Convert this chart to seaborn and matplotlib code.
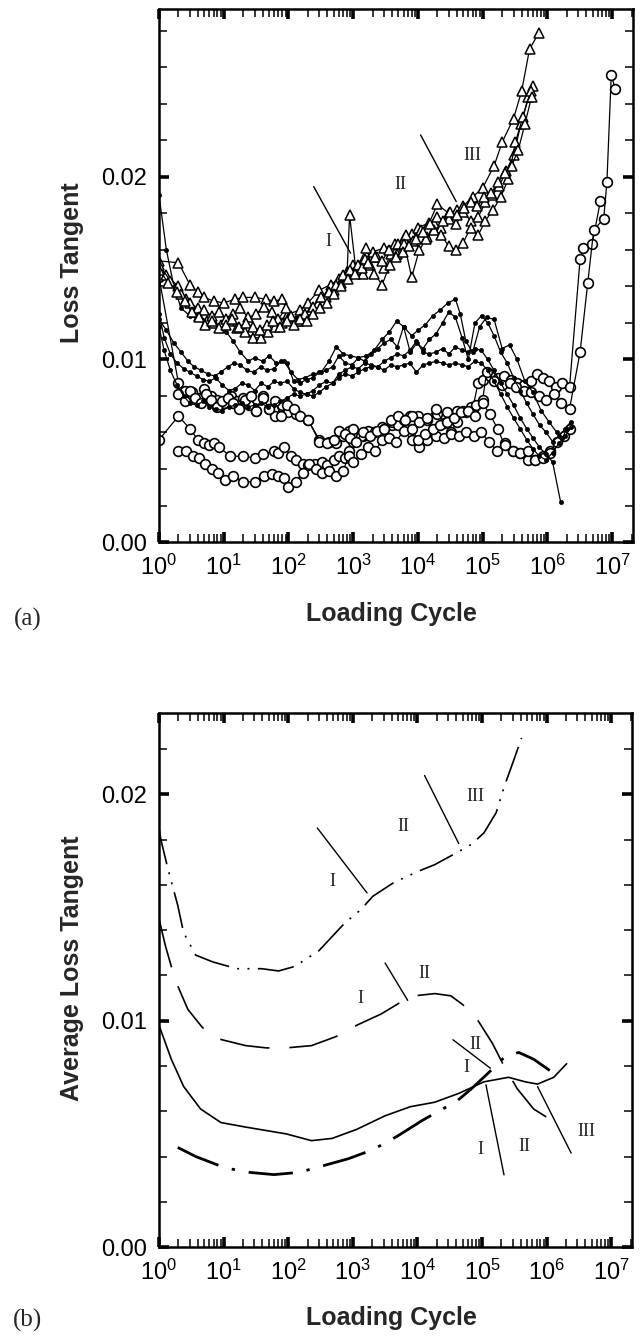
import numpy as np
import pandas as pd
import matplotlib
matplotlib.use("Agg")
import matplotlib.pyplot as plt
import seaborn as sns
from matplotlib.ticker import FixedLocator, LogLocator, NullFormatter, MultipleLocator

# ---------------- data : panel (a) ----------------
T1_N = [1, 2, 3, 4, 5, 7, 10, 15, 20, 30, 45, 60, 80, 100, 150, 200, 300, 450, 600, 800, 1000, 1500,
        2000, 3000, 4500, 6000, 8000, 1e4, 1.5e4, 2e4, 3e4, 4e4, 5e4, 7e4, 1e5, 1.5e5, 2e5, 3e5, 4e5, 5.3e5, 7.4e5]
T1_v = [0.0154, 0.0153, 0.0141, 0.0137, 0.0134, 0.0132, 0.0131, 0.0133, 0.0134, 0.0134, 0.0133, 0.0132, 0.0133,
        0.0125, 0.0127, 0.0131, 0.0138, 0.0141, 0.0144, 0.0148, 0.0152, 0.0155, 0.0159, 0.0161, 0.0163, 0.0166,
        0.0169, 0.0172, 0.0175, 0.0185, 0.0180, 0.0182, 0.0184, 0.0189, 0.0194, 0.0206, 0.0219, 0.0232, 0.0247,
        0.0270, 0.0279]
T2_N = [1, 1.3, 2, 2.6, 3.3, 4.2, 5.5, 7, 9, 12, 16, 21, 28, 37, 48, 62, 80, 100, 130, 170, 220, 290, 380, 500,
        650, 800, 880, 1100, 1400, 1800, 2300, 3000, 3900, 5000, 6500, 8500, 1.1e4, 1.4e4, 1.8e4, 2.3e4, 3e4,
        3.9e4, 5e4, 6.5e4, 8.5e4, 1.1e5, 1.4e5, 1.8e5, 2.3e5, 3e5, 3.9e5, 5.1e5, 6.0e5]
T2_v = [0.0150, 0.0146, 0.0140, 0.0133, 0.0127, 0.0124, 0.0121, 0.0120, 0.0119, 0.0121, 0.0117, 0.0115, 0.0112,
        0.0112, 0.0115, 0.0118, 0.0120, 0.0122, 0.0121, 0.0123, 0.0127, 0.0131, 0.0134, 0.0138, 0.0142, 0.0146,
        0.0179, 0.0149, 0.0147, 0.0152, 0.0156, 0.0150, 0.0158, 0.0163, 0.0168, 0.0165, 0.0171, 0.0167, 0.0175,
        0.0172, 0.0177, 0.0174, 0.0181, 0.0176, 0.0178, 0.0186, 0.0190, 0.0195, 0.0203, 0.0212, 0.0229, 0.0244,
        0.0250]
T3_N = [1, 1.5, 2.2, 3, 4, 5, 6.5, 8.5, 11, 14, 18, 24, 32, 42, 55, 70, 90, 110, 140, 180, 240, 320, 420, 550,
        700, 900, 1200, 1600, 2100, 2800, 3700, 4800, 6200, 8000, 1.05e4, 1.35e4, 1.75e4, 2.3e4, 3e4, 3.9e4,
        5e4, 6.5e4, 8.5e4, 1.1e5, 1.45e5, 1.9e5, 2.5e5, 3.2e5, 4.2e5, 5.5e5]
T3_v = [0.0152, 0.0143, 0.0136, 0.0131, 0.0128, 0.0127, 0.0124, 0.0126, 0.0122, 0.0125, 0.0128, 0.0123, 0.0125,
        0.0129, 0.0126, 0.0122, 0.0128, 0.0124, 0.0121, 0.0125, 0.0129, 0.0134, 0.0137, 0.0141, 0.0146, 0.0149,
        0.0152, 0.0161, 0.0147, 0.0141, 0.0152, 0.0158, 0.0163, 0.0145, 0.0160, 0.0166, 0.0171, 0.0168, 0.0162,
        0.0160, 0.0164, 0.0172, 0.0168, 0.0176, 0.0182, 0.0189, 0.0199, 0.0219, 0.0233, 0.0247]
T4_N = [1, 1.4, 1.9, 2.5, 3.2, 4.1, 5.2, 6.6, 8.4, 10.7, 13.6, 17.3, 22, 28, 36, 46, 58, 74, 94, 120, 150, 190,
        240, 310, 400, 510, 650, 830, 1060, 1350, 1720, 2200, 2800, 3560, 4540, 5780, 7360, 9380, 1.2e4, 1.52e4,
        1.94e4, 2.47e4, 3.15e4, 4e4, 5.1e4, 6.5e4, 8.3e4, 1.06e5, 1.35e5, 1.72e5, 2.19e5, 2.8e5, 3.56e5, 4.5e5,
        5.7e5]
T4_v = [0.0149, 0.0142, 0.0137, 0.0132, 0.0126, 0.0123, 0.0119, 0.0121, 0.0117, 0.0119, 0.0122, 0.0118, 0.0120,
        0.0118, 0.0116, 0.0119, 0.0121, 0.0118, 0.0121, 0.0119, 0.0122, 0.0121, 0.0125, 0.0128, 0.0131, 0.0136,
        0.0140, 0.0144, 0.0147, 0.0150, 0.0153, 0.0156, 0.0154, 0.0160, 0.0156, 0.0159, 0.0162, 0.0166, 0.0170,
        0.0174, 0.0178, 0.0176, 0.0181, 0.0179, 0.0183, 0.0186, 0.0184, 0.0189, 0.0191, 0.0197, 0.0202, 0.0206,
        0.0215, 0.0229, 0.0244]

F1_N = [1, 1.3, 1.7, 2.2, 3, 4, 5, 6.5, 8.5, 11, 14, 18, 24, 30, 40, 50, 65, 85, 110, 140, 180, 240, 320, 420,
        550, 700, 900, 1200, 1600, 2100, 2800, 3600, 4700, 6000, 8000, 1e4, 1.3e4, 1.7e4, 2.2e4, 2.9e4, 3.8e4,
        4.5e4, 5.5e4, 7e4, 9e4, 1.15e5, 1.5e5, 2e5, 2.6e5, 3.4e5, 4.5e5, 6e5, 8e5, 1.05e6, 1.4e6, 1.7e6, 2e6]
F1_v = [0.0190, 0.0160, 0.0140, 0.0128, 0.0124, 0.0122, 0.0121, 0.0120, 0.0118, 0.0115, 0.0110, 0.0104, 0.0099,
        0.0101, 0.0099, 0.0102, 0.0098, 0.0099, 0.0093, 0.0089, 0.0090, 0.0092, 0.0093, 0.0099, 0.0107, 0.0103,
        0.0102, 0.0101, 0.0102, 0.0105, 0.0111, 0.0115, 0.0121, 0.0118, 0.0113, 0.0116, 0.0119, 0.0124, 0.0127,
        0.0131, 0.0133, 0.0125, 0.0110, 0.0104, 0.0118, 0.0123, 0.0122, 0.0106, 0.0108, 0.0100, 0.0088, 0.0082,
        0.0072, 0.0066, 0.0060, 0.0057, 0.0062]
F2_N = [1, 1.3, 1.7, 2.2, 2.8, 3.5, 4.5, 5.7, 7.2, 9, 11.5, 14.5, 18, 23, 29, 37, 47, 60, 76, 96, 120, 150, 190,
        240, 300, 380, 480, 600, 760, 960, 1200, 1500, 1900, 2400, 3000, 3800, 4800, 6000, 7600, 9600, 1.2e4,
        1.5e4, 1.9e4, 2.4e4, 3e4, 3.8e4, 4.8e4, 6e4, 7.6e4, 9.6e4, 1.2e5, 1.5e5, 1.9e5, 2.4e5, 3e5, 3.8e5, 4.8e5,
        6e5, 7.6e5, 9.6e5, 1.2e6, 1.5e6, 1.9e6, 2.3e6]
F2_v = [0.0122, 0.0116, 0.0109, 0.0104, 0.0099, 0.0096, 0.0094, 0.0092, 0.0091, 0.0093, 0.0096, 0.0098, 0.0097,
        0.0094, 0.0093, 0.0096, 0.0094, 0.0095, 0.0099, 0.0098, 0.0088, 0.0087, 0.0089, 0.0090, 0.0093, 0.0094,
        0.0096, 0.0102, 0.0098, 0.0097, 0.0101, 0.0099, 0.0103, 0.0106, 0.0109, 0.0111, 0.0107, 0.0118, 0.0104,
        0.0109, 0.0106, 0.0111, 0.0114, 0.0120, 0.0126, 0.0123, 0.0112, 0.0100, 0.0120, 0.0124, 0.0120, 0.0113,
        0.0104, 0.0098, 0.0090, 0.0083, 0.0076, 0.0070, 0.0064, 0.0060, 0.0055, 0.0058, 0.0062, 0.0066]
F3_N = [1, 1.2, 1.5, 1.9, 2.4, 3, 3.8, 4.8, 6, 7.5, 9.5, 12, 15, 19, 24, 30, 38, 48, 60, 75, 95, 120, 150, 190,
        240, 300, 380, 480, 600, 750, 950, 1200, 1500, 1900, 2400, 3000, 3800, 4800, 6000, 7500, 9500, 1.2e4,
        1.5e4, 1.9e4, 2.4e4, 3e4, 3.8e4, 4.8e4, 6e4, 7.5e4, 9.5e4, 1.2e5, 1.5e5, 1.9e5, 2.4e5, 3e5, 3.8e5, 4.8e5,
        6e5, 7.5e5, 9.5e5, 1.2e6, 1.6e6]
F3_v = [0.0125, 0.0112, 0.0103, 0.0098, 0.0095, 0.0093, 0.0091, 0.0089, 0.0088, 0.0090, 0.0086, 0.0083, 0.0084,
        0.0087, 0.0086, 0.0083, 0.0087, 0.0085, 0.0088, 0.0087, 0.0088, 0.0084, 0.0082, 0.0081, 0.0083, 0.0086,
        0.0088, 0.0087, 0.0092, 0.0094, 0.0096, 0.0095, 0.0098, 0.0097, 0.0096, 0.0099, 0.0101, 0.0103, 0.0102,
        0.0105, 0.0110, 0.0104, 0.0103, 0.0104, 0.0106, 0.0103, 0.0107, 0.0105, 0.0104, 0.0106, 0.0105, 0.0100,
        0.0094, 0.0087, 0.0081, 0.0075, 0.0068, 0.0062, 0.0057, 0.0052, 0.0048, 0.0044, 0.0022]
F4_N = [1, 1.2, 1.5, 1.9, 2.4, 3, 3.8, 4.8, 6, 7.5, 9.5, 12, 15, 19, 24, 30, 38, 48, 60, 75, 95, 120, 150, 190,
        240, 300, 380, 480, 600, 750, 950, 1200, 1500, 1900, 2400, 3000, 3800, 4800, 6000, 7500, 9500, 1.2e4,
        1.5e4, 1.9e4, 2.4e4, 3e4, 3.8e4, 4.8e4, 6e4, 7.5e4, 9.5e4, 1.2e5, 1.5e5, 1.9e5, 2.4e5, 3e5, 3.8e5, 4.8e5,
        6e5, 7.5e5, 9.5e5, 1.2e6, 1.5e6, 1.9e6, 2.3e6]
F4_v = [0.0118, 0.0105, 0.0094, 0.0086, 0.0080, 0.0076, 0.0075, 0.0077, 0.0074, 0.0073, 0.0072, 0.0074, 0.0075,
        0.0076, 0.0074, 0.0075, 0.0076, 0.0074, 0.0075, 0.0077, 0.0079, 0.0081, 0.0080, 0.0081, 0.0080, 0.0082,
        0.0085, 0.0087, 0.0090, 0.0092, 0.0091, 0.0093, 0.0095, 0.0096, 0.0096, 0.0094, 0.0097, 0.0096, 0.0097,
        0.0098, 0.0093, 0.0097, 0.0098, 0.0099, 0.0098, 0.0097, 0.0098, 0.0097, 0.0096, 0.0099, 0.0098, 0.0094,
        0.0088, 0.0081, 0.0074, 0.0068, 0.0062, 0.0056, 0.0051, 0.0047, 0.0045, 0.0049, 0.0054, 0.0058, 0.0063]

C1_N = [1, 2, 2.5, 3.2, 4, 5, 6.3, 8, 10, 13, 16, 20, 25, 32, 40, 50, 63, 80, 100, 130, 200, 300, 420, 550, 700,
        850, 1000, 1400, 2000, 2800, 4000, 5500, 7500, 1e4, 1.4e4, 2e4, 2.8e4, 4e4, 5.5e4, 7e4, 8.5e4, 1e5, 1.3e5,
        1.7e5, 2.1e5, 2.7e5, 3.4e5, 4.3e5, 5.5e5, 7e5, 8.5e5, 1.05e6, 1.35e6, 1.7e6, 2.2e6, 3.2e6, 3.6e6, 4.9e6,
        6.6e6]
C1_v = [0.0145, 0.0087, 0.0083, 0.0082, 0.0079, 0.0084, 0.0080, 0.0078, 0.0076, 0.0080, 0.0077, 0.0079, 0.0075,
        0.0072, 0.0080, 0.0073, 0.0069, 0.0075, 0.0071, 0.0070, 0.0067, 0.0056, 0.0055, 0.0054, 0.0058, 0.0061,
        0.0062, 0.0058, 0.0060, 0.0063, 0.0064, 0.0067, 0.0069, 0.0069, 0.0067, 0.0070, 0.0071, 0.0072, 0.0071,
        0.0073, 0.0087, 0.0089, 0.0091, 0.0090, 0.0091, 0.0089, 0.0087, 0.0086, 0.0088, 0.0092, 0.0090, 0.0088,
        0.0085, 0.0087, 0.0085, 0.0155, 0.0161, 0.0163, 0.0187]
C2_N = [1, 2, 3, 4, 5, 6, 7, 8.5, 12.5, 20, 30, 40, 60, 70, 85, 110, 130, 170, 200, 260, 330, 400, 500, 600, 750,
        850, 1000, 1300, 1700, 2200, 3000, 4000, 5000, 6200, 8000, 1.05e4, 1.4e4, 1.9e4, 2.5e4, 3.2e4, 4e4, 5e4,
        6.5e4, 8e4, 1e5, 1.15e5, 1.5e5, 2e5, 2.6e5, 3.3e5, 4.3e5, 5.6e5, 7.3e5, 9.5e5, 1.25e6, 1.65e6, 2.2e6,
        3.2e6, 4.2e6, 5.2e6, 7.4e6, 8.3e6, 9.7e6, 1.12e7]
C2_v = [0.0056, 0.0069, 0.0062, 0.0056, 0.0054, 0.0053, 0.0054, 0.0052, 0.0047, 0.0047, 0.0046, 0.0048, 0.0050,
        0.0049, 0.0052, 0.0047, 0.0045, 0.0043, 0.0042, 0.0043, 0.0044, 0.0042, 0.0045, 0.0047, 0.0046, 0.0050,
        0.0055, 0.0058, 0.0061, 0.0060, 0.0062, 0.0066, 0.0064, 0.0067, 0.0069, 0.0066, 0.0068, 0.0073, 0.0065,
        0.0060, 0.0066, 0.0072, 0.0074, 0.0075, 0.0078, 0.0093, 0.0088, 0.0086, 0.0087, 0.0085, 0.0083, 0.0082,
        0.0080, 0.0078, 0.0081, 0.0076, 0.0073, 0.0104, 0.0142, 0.0171, 0.0177, 0.0197, 0.0256, 0.0248]
C3_N = [2, 2.6, 3.3, 4.2, 5.2, 6.6, 8.3, 10.5, 14, 20, 30, 42, 55, 68, 85, 100, 130, 170, 210, 270, 330, 420, 550,
        700, 850, 1000, 1300, 1700, 2200, 2800, 3600, 4600, 6000, 8000, 1.05e4, 1.4e4, 1.9e4, 2.5e4, 3.3e4, 4.3e4,
        5.6e4, 7.3e4, 9.5e4, 1.25e5, 1.65e5, 2.2e5, 2.9e5, 3.8e5, 5e5, 6.5e5, 8.5e5, 1.1e6]
C3_v = [0.0050, 0.0050, 0.0047, 0.0046, 0.0043, 0.0040, 0.0038, 0.0034, 0.0036, 0.0033, 0.0033, 0.0036, 0.0037,
        0.0036, 0.0035, 0.0030, 0.0033, 0.0038, 0.0043, 0.0040, 0.0038, 0.0039, 0.0036, 0.0039, 0.0047, 0.0044,
        0.0048, 0.0052, 0.0050, 0.0056, 0.0057, 0.0055, 0.0061, 0.0056, 0.0052, 0.0056, 0.0058, 0.0057, 0.0059,
        0.0058, 0.0060, 0.0058, 0.0060, 0.0055, 0.0050, 0.0054, 0.0050, 0.0049, 0.0045, 0.0045, 0.0047, 0.0050]
C4_N = [2, 2.5, 3, 3.6, 4.4, 5.3, 6.4, 7.8, 9.5, 11.5, 14, 17, 21, 26, 32, 40, 50, 62, 77, 95, 120, 150, 200, 300,
        400, 500, 600, 750, 900, 1100, 1400, 1800, 2300, 3000, 3800, 4900, 6300, 8000, 1e4, 1.3e4, 1.7e4, 2.2e4,
        2.8e4, 3.6e4, 4.6e4, 6e4, 7.7e4, 1e5, 1.3e5, 1.7e5, 2.2e5, 2.9e5, 3.8e5, 5e5, 6.5e5, 8.5e5, 1.1e6, 1.4e6,
        1.8e6, 2.2e6]
C4_v = [0.0081, 0.0077, 0.0083, 0.0079, 0.0076, 0.0081, 0.0078, 0.0074, 0.0077, 0.0079, 0.0076, 0.0073, 0.0078,
        0.0080, 0.0072, 0.0079, 0.0073, 0.0077, 0.0069, 0.0075, 0.0073, 0.0069, 0.0067, 0.0055, 0.0054, 0.0056,
        0.0061, 0.0059, 0.0057, 0.0055, 0.0060, 0.0058, 0.0061, 0.0062, 0.0067, 0.0069, 0.0067, 0.0062, 0.0056,
        0.0059, 0.0062, 0.0064, 0.0066, 0.0068, 0.0071, 0.0072, 0.0069, 0.0076, 0.0070, 0.0062, 0.0053, 0.0050,
        0.0049, 0.0050, 0.0045, 0.0046, 0.0049, 0.0055, 0.0058, 0.0062]

# ---------------- data : panel (b) ----------------
A_N = [1, 1.07, 1.35, 1.95, 2.4, 3.7, 6.8, 16, 39, 71, 126, 300, 740, 1320, 2040, 4270, 1.02e4, 1.86e4, 3.9e4,
       6.9e4, 1.07e5, 1.66e5, 2.24e5, 3.0e5, 4.1e5]
A_v = [0.0185, 0.0180, 0.0168, 0.0151, 0.0139, 0.0129, 0.0126, 0.0123, 0.0123, 0.0122, 0.0124, 0.0131, 0.0143,
       0.0149, 0.0155, 0.0161, 0.0166, 0.0169, 0.0174, 0.0178, 0.0183, 0.0192, 0.0204, 0.0214, 0.0225]
B_N = [1, 1.26, 1.78, 2.8, 4.7, 8.3, 22, 46, 93, 229, 550, 1150, 2750, 5370, 8900, 1.86e4, 3.3e4, 5.1e4, 8.7e4,
       1.45e5, 2.1e5, 3.5e5, 6.3e5, 1.05e6]
B_v = [0.0145, 0.0133, 0.0118, 0.0105, 0.0097, 0.0092, 0.0089, 0.0088, 0.0088, 0.0089, 0.0093, 0.0098, 0.0103,
       0.0108, 0.0111, 0.0112, 0.0111, 0.0107, 0.0100, 0.0090, 0.0081, 0.0070, 0.0061, 0.0057]
C_N = [1, 1.55, 2.4, 4.4, 9.1, 22, 93, 229, 479, 1150, 3160, 7760, 1.86e4, 4.47e4, 1.07e5, 2.57e5, 4.68e5, 7.24e5,
       1.29e6, 2.04e6]
C_v = [0.0098, 0.0083, 0.0071, 0.0061, 0.0055, 0.0053, 0.0050, 0.0047, 0.0048, 0.0052, 0.0058, 0.0062, 0.0064,
       0.0068, 0.0073, 0.0075, 0.0073, 0.0072, 0.0075, 0.0081]
D_N = [1.95, 3.7, 10.5, 25, 60, 148, 355, 850, 2040, 4900, 1.2e4, 2.45e4, 3.9e4, 6.9e4, 1.26e5, 2.24e5, 3.7e5,
       6.3e5, 1.12e6]
D_v = [0.0044, 0.0040, 0.0035, 0.0033, 0.0032, 0.0033, 0.0036, 0.0039, 0.0043, 0.0049, 0.0056, 0.0061, 0.0064,
       0.0070, 0.0077, 0.0084, 0.0086, 0.0083, 0.0078]

# stage boundary marks and labels
a_marks = [([245, 912], [0.01947, 0.01582]), ([1.1e4, 3.9e4], [0.0223, 0.01865])]
a_labels = [(407, 0.01645, "I"), (5370, 0.01956, "II"), (6.9e4, 0.0212, "III")]
b_marks = [([282, 1660], [0.01852, 0.01565]), ([1.29e4, 4.37e4], [0.02084, 0.01783]),
           ([3160, 7080], [0.01255, 0.0109]), ([3.55e4, 1.35e5], [0.00916, 0.0079]),
           ([1.15e5, 2.19e5], [0.00717, 0.00319]), ([7.24e5, 2.4e6], [0.00709, 0.00415])]
b_labels = [(479, 0.01617, "I"), (6170, 0.0186, "II"), (7.9e4, 0.01993, "III"),
            (1320, 0.0110, "I"), (1.29e4, 0.0121, "II"),
            (7.9e4, 0.00894, "II"), (5.75e4, 0.00795, "I"),
            (9.3e4, 0.00429, "I"), (4.57e5, 0.00444, "II"), (4.17e6, 0.0051, "III")]

x_ticks = [10.0 ** k for k in range(8)]
x_ticklabels = [r"$10^{%d}$" % k for k in range(8)]
y_ticks = [0.00, 0.01, 0.02]
y_ticklabels = ["0.00", "0.01", "0.02"]

# ---------------- style ----------------
sns.set_theme(style="ticks")
plt.rcParams["font.family"] = ["Liberation Sans", "DejaVu Sans"]
plt.rcParams["mathtext.fontset"] = "custom"
plt.rcParams["mathtext.rm"] = "Liberation Sans"
plt.rcParams["mathtext.it"] = "Liberation Sans:italic"
plt.rcParams["mathtext.bf"] = "Liberation Sans:bold"
plt.rcParams["axes.linewidth"] = 1.8
plt.rcParams["axes.edgecolor"] = "black"

fig = plt.figure(figsize=(6.44, 13.39), dpi=100)
axA = fig.add_axes([0.2469, 0.5952, 0.7360, 0.3981])
axB = fig.add_axes([0.2469, 0.0687, 0.7345, 0.3988])


def frame(ax, ymax):
    ax.set_xscale("log")
    ax.set_xlim(1, 2.1e7)
    ax.set_ylim(0, ymax)
    ax.xaxis.set_major_locator(FixedLocator(x_ticks))
    ax.set_xticklabels(x_ticklabels)
    ax.xaxis.set_minor_locator(LogLocator(base=10, subs=np.arange(2, 10), numticks=30))
    ax.xaxis.set_minor_formatter(NullFormatter())
    ax.yaxis.set_major_locator(FixedLocator(y_ticks))
    ax.set_yticklabels(y_ticklabels)
    ax.yaxis.set_minor_locator(MultipleLocator(0.002))
    ax.tick_params(which="both", direction="in", top=True, right=True, colors="black")
    ax.tick_params(which="major", length=7, width=2.6, labelsize=17)
    ax.tick_params(which="minor", length=5.5, width=1.1)
    ax.tick_params(axis="x", which="major", pad=9)
    ax.tick_params(axis="y", which="major", pad=9)
    ax.set_xlabel("")
    ax.set_ylabel("")
    for sp in ax.spines.values():
        sp.set_linewidth(1.8)
        sp.set_color("black")


def series(ax, N, v, **kw):
    df = pd.DataFrame({"N": N, "v": v})
    sns.lineplot(data=df, x="N", y="v", ax=ax, estimator=None, sort=False, legend=False,
                 color="black", **kw)


# panel (a)
for N, v in [(C1_N, C1_v), (C2_N, C2_v), (C3_N, C3_v), (C4_N, C4_v)]:
    series(axA, N, v, lw=0.9, marker="o", ms=7, mfc="white", mec="black", mew=1.2)
for N, v in [(F1_N, F1_v), (F2_N, F2_v), (F3_N, F3_v), (F4_N, F4_v)]:
    series(axA, N, v, lw=0.9, marker="o", ms=3, mfc="black", mec="black", mew=0.5)
for N, v in [(T1_N, T1_v), (T2_N, T2_v), (T3_N, T3_v), (T4_N, T4_v)]:
    series(axA, N, v, lw=0.9, marker="^", ms=7.5, mfc="white", mec="black", mew=1.1)

for xs, ys in a_marks:
    axA.plot(xs, ys, color="black", lw=1.0)
for x, y, t in a_labels:
    axA.text(x, y, t, ha="center", va="center", fontsize=13, family=["Liberation Serif", "DejaVu Serif"])

frame(axA, 0.0292)

# panel (b)
series(axB, A_N, A_v, lw=1.2, linestyle=(0, (22, 5, 1.2, 5, 1.2, 5)))
series(axB, B_N, B_v, lw=1.2, linestyle=(0, (30, 12)))
series(axB, C_N, C_v, lw=1.2, linestyle="-")
series(axB, D_N, D_v, lw=2.0, linestyle=(0, (16, 5, 1.2, 5)))

for xs, ys in b_marks:
    axB.plot(xs, ys, color="black", lw=1.0)
for x, y, t in b_labels:
    axB.text(x, y, t, ha="center", va="center", fontsize=13, family=["Liberation Serif", "DejaVu Serif"])

frame(axB, 0.0236)

# axis titles and panel letters
W, H = 644.0, 1339.0
fig.text(72 / W, 1 - 263 / H, "Loss Tangent", rotation=90, ha="center", va="center",
         fontsize=18, fontweight="bold")
fig.text(391 / W, 1 - 614 / H, "Loading Cycle", ha="center", va="center", fontsize=18, fontweight="bold")
fig.text(28 / W, 1 - 619 / H, "(a)", ha="center", va="center", fontsize=18,
         family=["Liberation Serif", "DejaVu Serif"])
fig.text(72 / W, 1 - 968 / H, "Average Loss Tangent", rotation=90, ha="center", va="center",
         fontsize=18, fontweight="bold")
fig.text(391 / W, 1 - 1318 / H, "Loading Cycle", ha="center", va="center", fontsize=18, fontweight="bold")
fig.text(28 / W, 1 - 1320 / H, "(b)", ha="center", va="center", fontsize=18,
         family=["Liberation Serif", "DejaVu Serif"])

fig.savefig("out.png", dpi=100, facecolor="white")
